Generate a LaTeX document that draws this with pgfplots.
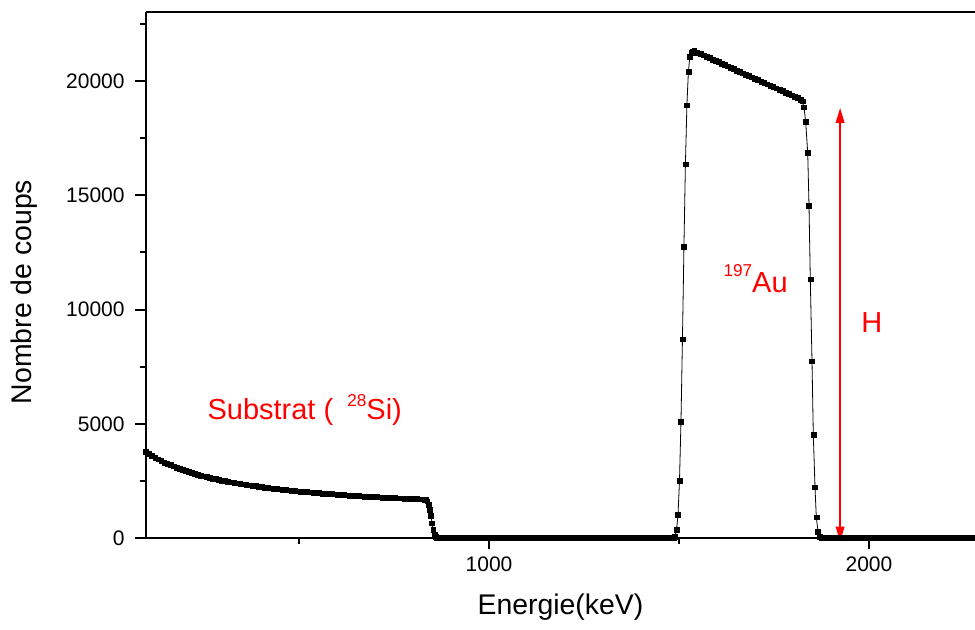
\documentclass[border=0pt]{standalone}
\usepackage{fontspec}
\setmainfont{Liberation Sans}
\usepackage{pgfplots}
\pgfplotsset{compat=1.18}
\usetikzlibrary{arrows.meta}

\begin{document}
\begin{tikzpicture}
\begin{axis}[
  width=414.5pt, height=263pt, scale only axis,
  xmin=97, xmax=2279, ymin=0, ymax=23030,
  axis x line*=box, axis y line*=left,
  axis line style={-, line width=1pt},
  xtick={1000,2000}, minor xtick={500,1500},
  ytick={0,5000,10000,15000,20000},
  minor ytick={2500,7500,12500,17500,22500},
  tick align=outside, xtick pos=bottom, ytick pos=left,
  major tick length=5.5pt, minor tick length=3pt,
  tick style={black, line width=1pt},
  scaled ticks=false,
  /pgf/number format/1000 sep={},
  /pgf/number format/assume math mode=true,
  ticklabel style={font=\fontsize{10.5}{12}\selectfont, inner sep=0pt},
  yticklabel style={anchor=east, xshift=-5pt},
  xticklabel style={anchor=north, yshift=-3.8pt},
  xlabel={Energie(keV)}, ylabel={Nombre de coups},
  label style={font=\fontsize{14.2}{16}\selectfont, inner sep=0pt},
  xlabel style={at={(axis description cs:0.5,-0.1445)}, anchor=base},
  ylabel style={at={(axis description cs:-0.1387,0.4677)}, anchor=base},
  clip=false,
]
\coordinate (bl) at (rel axis cs:0,0);
\coordinate (tr) at (rel axis cs:1,1);

% spectre RBS (canaux ~4 keV)
\addplot[black, line width=0.4pt, mark=square*, mark size=1.2pt,
  mark options={solid, line width=0.2pt}] coordinates {
% substrat Si
(97,3765) (105,3678) (113,3596) (121,3520) (129,3447) (137,3379) (145,3314)
(153,3253) (161,3195) (169,3139) (177,3087) (185,3037) (193,2989) (201,2944)
(209,2900) (217,2859) (225,2819) (233,2781) (241,2744) (249,2709) (257,2675)
(265,2643) (273,2612) (281,2582) (289,2553) (297,2525) (305,2498) (313,2472)
(321,2447) (329,2422) (337,2399) (345,2376) (353,2354) (361,2333) (369,2312)
(377,2292) (385,2273) (393,2254) (401,2235) (409,2218) (417,2200) (425,2184)
(433,2167) (441,2151) (449,2136) (457,2121) (465,2106) (473,2092) (481,2078)
(489,2064) (497,2051) (505,2038) (513,2026) (521,2013) (529,2001) (537,1989)
(545,1978) (553,1967) (561,1956) (569,1945) (577,1935) (585,1924) (593,1914)
(601,1905) (609,1895) (617,1885) (625,1876) (633,1867) (641,1858) (649,1850)
(657,1841) (665,1833) (673,1825) (681,1817) (689,1809) (697,1801) (705,1794)
(713,1786) (721,1779) (729,1772) (737,1765) (745,1758) (753,1751) (761,1744)
(769,1738) (777,1731) (785,1725) (793,1719) (801,1713) (809,1707) (817,1701)
(825,1695) (829,1688) (833,1670) (837,1610) (841,1450) (844,1230) (847,960)
(850,650) (853,360) (856,170) (859,70) (863,25) (867,8) (871,0)
% zone vide
(879,0) (887,0) (895,0) (903,0) (911,0) (919,0) (927,0) (935,0) (943,0)
(951,0) (959,0) (967,0) (975,0) (983,0) (991,0) (999,0) (1007,0) (1015,0)
(1023,0) (1031,0) (1039,0) (1047,0) (1055,0) (1063,0) (1071,0) (1079,0)
(1087,0) (1095,0) (1103,0) (1111,0) (1119,0) (1127,0) (1135,0) (1143,0)
(1151,0) (1159,0) (1167,0) (1175,0) (1183,0) (1191,0) (1199,0) (1207,0)
(1215,0) (1223,0) (1231,0) (1239,0) (1247,0) (1255,0) (1263,0) (1271,0)
(1279,0) (1287,0) (1295,0) (1303,0) (1311,0) (1319,0) (1327,0) (1335,0)
(1343,0) (1351,0) (1359,0) (1367,0) (1375,0) (1383,0) (1391,0) (1399,0)
(1407,0) (1415,0) (1423,0) (1431,0) (1439,0) (1447,0) (1455,0) (1463,0)
(1471,0) (1479,0) (1486,10)
% pic Au
(1489.5,60) (1493.4,350) (1497.3,1007) (1501.2,2496) (1505.1,5092)
(1509.0,8700) (1512.9,12754) (1516.8,16362) (1520.7,18945) (1524.6,20403)
(1528.5,21080) (1532.4,21260) (1536,21310)
(1540,21320) (1548,21260) (1556,21199) (1564,21139) (1572,21078) (1580,21018)
(1588,20958) (1596,20897) (1604,20837) (1612,20776) (1620,20716) (1628,20656)
(1636,20595) (1644,20535) (1652,20474) (1660,20414) (1668,20354) (1676,20293)
(1684,20233) (1692,20172) (1700,20112) (1708,20052) (1716,19991) (1724,19931)
(1732,19870) (1740,19810) (1748,19750) (1756,19689) (1764,19629) (1772,19568)
(1780,19508) (1788,19448) (1796,19387) (1804,19327) (1812,19266) (1820,19206)
(1824.5,19120) (1828.9,18858) (1833.4,18214) (1838.7,16870) (1842.1,14550)
(1845.5,11327) (1850,7737) (1853.4,4523) (1857.9,2220) (1861.3,906)
(1865.8,293) (1870,40) (1874,0)
% au-dela
(1882,0) (1890,0) (1898,0) (1906,0) (1914,0) (1922,0) (1930,0) (1938,0)
(1946,0) (1954,0) (1962,0) (1970,0) (1978,0) (1986,0) (1994,0) (2002,0)
(2010,0) (2018,0) (2026,0) (2034,0) (2042,0) (2050,0) (2058,0) (2066,0)
(2074,0) (2082,0) (2090,0) (2098,0) (2106,0) (2114,0) (2122,0) (2130,0)
(2138,0) (2146,0) (2154,0) (2162,0) (2170,0) (2178,0) (2186,0) (2194,0)
(2202,0) (2210,0) (2218,0) (2226,0) (2234,0) (2242,0) (2250,0) (2258,0)
(2266,0) (2274,0) (2279,0)
};

% annotations
\draw[red, line width=0.75pt,
  {Triangle[length=7.5pt,width=4.3pt]}-{Triangle[length=7.5pt,width=4.3pt]}]
  (axis cs:1924,18830) -- (axis cs:1924,-160);
\node[red, anchor=base west, inner sep=0pt, font=\fontsize{14.5}{17}\selectfont]
  at (axis cs:258,5188) {Substrat (\hspace{7pt}\raisebox{6.3pt}{\fontsize{8.6}{10}\selectfont 28}Si)};
\node[red, anchor=base west, inner sep=0pt, font=\fontsize{14.5}{17}\selectfont]
  at (axis cs:1616,10757) {\raisebox{7.8pt}{\fontsize{8.6}{10}\selectfont 197}Au};
\node[red, anchor=base west, inner sep=0pt, font=\fontsize{14.5}{17}\selectfont]
  at (axis cs:1979,9006) {H};
\end{axis}
\pgfresetboundingbox
\path[use as bounding box] ([xshift=-73pt,yshift=-46pt]bl) rectangle ([yshift=6pt]tr);
\end{tikzpicture}
\end{document}
